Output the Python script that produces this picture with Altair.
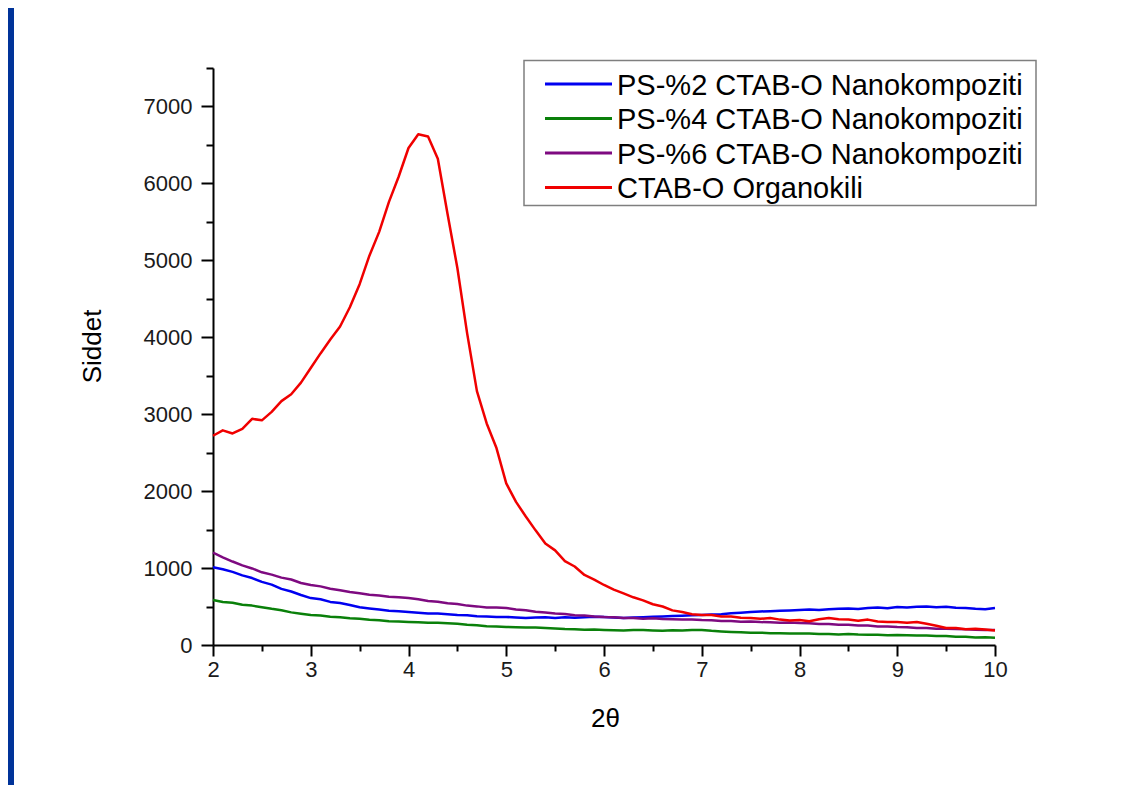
import altair as alt
import pandas as pd

# 2θ sampling grid (degrees)
two_theta = [round(2 + 0.1 * i, 1) for i in range(81)]

series_names = [
    "PS-%2 CTAB-O Nanokompoziti",
    "PS-%4 CTAB-O Nanokompoziti",
    "PS-%6 CTAB-O Nanokompoziti",
    "CTAB-O Organokili",
]
series_colors = ["#0000F0", "#0A800A", "#7E0A80", "#F00000"]

ps2 = [
    1010, 985, 950, 905, 870, 820, 785, 730, 695, 650,
    610, 595, 560, 545, 520, 490, 475, 460, 445, 440,
    430, 420, 410, 408, 400, 390, 388, 375, 372, 365,
    365, 358, 350, 356, 362, 352, 360, 354, 362, 366,
    365, 358, 350, 356, 360, 366, 370, 376, 380, 386,
    390, 396, 400, 412, 420, 430, 436, 440, 446, 450,
    455, 462, 455, 466, 470, 476, 468, 480, 486, 478,
    495, 488, 496, 500, 490, 496, 484, 480, 470, 465,
    480,
]

ps4 = [
    585, 560, 548, 522, 512, 492, 470, 452, 424, 406,
    390, 382, 368, 362, 348, 342, 328, 322, 308, 306,
    300, 296, 288, 290, 284, 276, 264, 256, 244, 242,
    235, 232, 226, 226, 220, 216, 208, 206, 198, 200,
    195, 192, 188, 194, 194, 190, 186, 192, 190, 196,
    195, 184, 176, 170, 166, 158, 160, 154, 152, 148,
    150, 148, 144, 144, 138, 142, 136, 134, 132, 128,
    130, 128, 122, 124, 118, 116, 108, 106, 98, 100,
    95,
]

ps6 = [
    1200, 1140, 1085, 1035, 995, 945, 915, 876, 852, 806,
    780, 762, 732, 712, 688, 672, 652, 642, 626, 622,
    610, 596, 572, 562, 542, 532, 512, 502, 488, 486,
    480, 462, 452, 432, 422, 408, 402, 386, 382, 372,
    365, 362, 352, 352, 342, 348, 338, 336, 332, 332,
    325, 322, 312, 312, 302, 306, 298, 296, 288, 292,
    285, 282, 272, 272, 262, 262, 252, 252, 242, 242,
    235, 232, 222, 222, 212, 212, 208, 206, 198, 196,
    195,
]

organo = [
    2720, 2790, 2750, 2810, 2940, 2920, 3030, 3170, 3260, 3410,
    3600, 3790, 3970, 4140, 4390, 4690, 5060, 5370, 5760, 6090,
    6460, 6640, 6610, 6320, 5600, 4900, 4050, 3300, 2880, 2560,
    2100, 1860, 1670, 1490, 1320, 1230, 1090, 1020, 910, 850,
    780, 720, 670, 620, 580, 530, 500, 450, 430, 400,
    390, 390, 370, 370, 355, 350, 340, 350, 330, 320,
    325, 310, 335, 350, 335, 330, 315, 330, 305, 300,
    300, 290, 300, 275, 250, 220, 220, 205, 210, 200,
    190,
]

x_ticks = [2, 2.5, 3, 3.5, 4, 4.5, 5, 5.5, 6, 6.5, 7, 7.5, 8, 8.5, 9, 9.5, 10]
y_ticks = [0, 500, 1000, 1500, 2000, 2500, 3000, 3500, 4000, 4500, 5000,
           5500, 6000, 6500, 7000, 7500]

W, H = 782, 577
FONT = "Liberation Sans"

x_enc = alt.X(
    "x:Q",
    scale=alt.Scale(domain=[2, 10], nice=False, zero=False),
    axis=alt.Axis(
        title="2θ",
        values=x_ticks,
        labelExpr="datum.value % 1 == 0 ? format(datum.value, 'd') : ''",
        tickSize={"condition": {"test": "datum.value % 1 == 0", "value": 11}, "value": 6},
        labelPadding=3,
        labelFlush=False,
        titleX=392,
        titleY=73,
        titleBaseline="middle",
        titleAlign="center",
    ),
)
y_enc = alt.Y(
    "y:Q",
    scale=alt.Scale(domain=[0, 7500], nice=False),
    axis=alt.Axis(
        title="Siddet",
        values=y_ticks,
        labelExpr="datum.value % 1000 == 0 ? format(datum.value, 'd') : ''",
        tickSize={"condition": {"test": "datum.value % 1000 == 0", "value": 12}, "value": 7},
        labelPadding=9,
        labelFlush=False,
        titleX=-121,
        titleY=278,
        titleBaseline="middle",
        titleAlign="center",
        titleAngle=270,
    ),
)

layers = []

# slide frame strip on the left
frame = alt.Chart(pd.DataFrame({"k": [0]})).mark_rect(color="#003399").encode(
    x=alt.value(-205), x2=alt.value(-199), y=alt.value(-60), y2=alt.value(H + 140)
)
layers.append(frame)

for name, color, vals in zip(series_names, series_colors, [ps2, ps4, ps6, organo]):
    d = pd.DataFrame({"x": two_theta, "y": vals, "series": name})
    layers.append(
        alt.Chart(d)
        .mark_line(color=color, strokeWidth=2.5, strokeJoin="round")
        .encode(x=x_enc, y=y_enc)
    )

# legend box
legend_box = alt.Chart(pd.DataFrame({"k": [0]})).mark_rect(
    fill="white", stroke="#7f7f7f", strokeWidth=1.5
).encode(x=alt.value(311), x2=alt.value(823), y=alt.value(-7.5), y2=alt.value(137.5))
layers.append(legend_box)

for i, (name, color) in enumerate(zip(series_names, series_colors)):
    one = pd.DataFrame({"name": [name]})
    layers.append(
        alt.Chart(one).mark_rule(color=color, strokeWidth=3).encode(
            x=alt.value(332), x2=alt.value(399), y=alt.value(16 + 34.5 * i)
        )
    )
    layers.append(
        alt.Chart(one).mark_text(
            align="left", baseline="alphabetic", font=FONT, fontSize=29, color="black"
        ).encode(text="name:N", x=alt.value(404), y=alt.value(26.5 + 34.5 * i))
    )

chart = (
    alt.layer(*layers)
    .properties(
        width=W,
        height=H,
        autosize=alt.AutoSizeParams(type="none"),
        padding={"left": 205, "top": 60, "right": 100, "bottom": 140},
        background="white",
    )
    .configure_view(stroke=None)
    .configure_axis(
        grid=False,
        domainColor="black",
        domainWidth=2,
        tickColor="black",
        tickWidth=2,
        labelFont=FONT,
        labelFontSize=22,
        labelColor="#1a1a1a",
        titleFont=FONT,
        titleFontSize=26,
        titleFontWeight="normal",
        titleColor="black",
    )
)

chart.save("out.html", embed_options={"renderer": "svg", "actions": False})
